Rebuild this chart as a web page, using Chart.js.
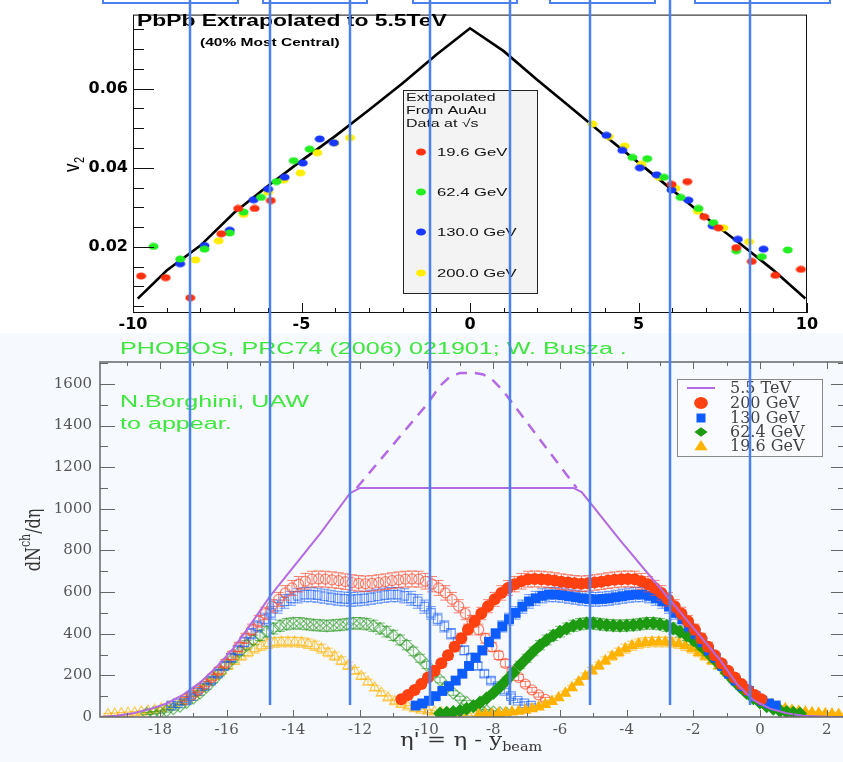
<!DOCTYPE html>
<html>
<head>
<meta charset="utf-8">
<title>PbPb v2 and dN/deta extrapolation</title>
<script src="https://cdn.jsdelivr.net/npm/chart.js@4.4.1/dist/chart.umd.min.js"></script>
<style>
    html, body { margin: 0; padding: 0; width: 843px; height: 762px; overflow: hidden; background: #ffffff; }
    canvas { position: absolute; left: 0; }
    #chart_v2 { top: 0; }
    #chart_dn { top: 333px; }
    #guides { top: 0; pointer-events: none; }
</style>
</head>
<body>
<canvas id="chart_v2" width="843" height="333" style="width:843px;height:333px"></canvas>
<canvas id="chart_dn" width="870" height="429" style="width:870px;height:429px"></canvas>
<canvas id="guides" width="843" height="762" style="width:843px;height:762px"></canvas>
<script>
// ---------- top panel: v2(eta), PbPb extrapolated to 5.5 TeV ----------
var v2_tick_x = [-10, -5, 0, 5, 10]
var v2_tick_y = [0.02, 0.04, 0.06]

var pbpb_eta = [-9.86, -9, -8, -7, -6, -5, -4, -3, -2, -1, 0, 1, 2, 3, 4, 5, 6, 7, 8, 9, 9.95]
var pbpb_v2 = [0.0069, 0.0140, 0.0203, 0.0286, 0.0354, 0.0418, 0.0480, 0.0546, 0.0614, 0.0686, 0.0753,
    0.0695, 0.0622, 0.0552, 0.0481, 0.0413, 0.0344, 0.0274, 0.0209, 0.0141, 0.0069]

var v2_19_eta = [-9.76, -9.03, -8.30, -7.38, -6.88, -6.39, -5.91, 5.98, 6.45, 6.95, 7.37, 7.90, 8.36, 9.06, 9.82]
var v2_19 = [0.0126, 0.0122, 0.0071, 0.0233, 0.0297, 0.0297, 0.0317, 0.0358, 0.0365, 0.0276, 0.0248, 0.0198, 0.0163, 0.0128, 0.0143]

var v2_62_eta = [-9.39, -8.60, -7.88, -7.13, -6.72, -6.20, -5.74, -5.23, -4.76, 4.82, 5.26, 5.76, 6.25, 6.78, 7.22, 7.90, 8.66, 9.43]
var v2_62 = [0.0201, 0.0169, 0.0194, 0.0235, 0.0288, 0.0325, 0.0365, 0.0418, 0.0447, 0.0426, 0.0423, 0.0376, 0.0325, 0.0297, 0.0261, 0.0190, 0.0175, 0.0192]

var v2_130_eta = [-8.60, -7.88, -7.13, -6.42, -5.99, -5.50, -4.96, -4.46, -4.04, 4.05, 4.52, 5.04, 5.54, 5.98, 6.48, 7.20, 7.95, 8.71]
var v2_130 = [0.0157, 0.0203, 0.0242, 0.0319, 0.0346, 0.0376, 0.0412, 0.0473, 0.0463, 0.0482, 0.0444, 0.0400, 0.0382, 0.0344, 0.0318, 0.0253, 0.0219, 0.0194]

var v2_200_eta = [-8.15, -7.46, -6.72, -5.99, -5.53, -5.03, -4.53, -4.02, -3.56, 3.63, 4.12, 4.59, 5.09, 5.61, 6.10, 6.76, 7.52, 8.28]
var v2_200 = [0.0167, 0.0215, 0.0282, 0.0338, 0.0369, 0.0387, 0.0438, 0.0463, 0.0476, 0.0511, 0.0479, 0.0455, 0.0409, 0.0376, 0.0348, 0.0290, 0.0248, 0.0213]

// ---------- bottom panel: dN/deta vs eta' = eta - y_beam ----------
var dn_tick_x = [-18, -16, -14, -12, -10, -8, -6, -4, -2, 0, 2]
var dn_tick_y = [0, 200, 400, 600, 800, 1000, 1200, 1400, 1600]

var lhc_eta = [-19.8, -19.3, -18.8, -18.3, -17.8, -17.3, -16.8, -16.3, -15.8, -15.3, -14.7, -14.2, -13.2, -12.3, -12.0,
    -5.6, -5.35, -4.2, -3.2, -2.2, -1.2, -0.7, -0.2, 0.3, 0.8, 1.3, 2.0, 2.55]
var lhc_dn = [0, 6, 18, 38, 65, 108, 165, 240, 330, 440, 580, 680, 880, 1075, 1100,
    1100, 1080, 850, 658, 466, 274, 160, 82, 40, 18, 6, 1, 0]
var lhc_peak_eta = [-12.1, -10.0, -9.6, -9.3, -9.0, -8.6, -8.3, -8.0, -7.7, -5.5]
var lhc_peak_dn = [1100, 1500, 1590, 1635, 1652, 1653, 1645, 1615, 1565, 1100]

// measured |eta| profiles (symmetric in eta)
var abs_eta = [0, 0.2, 0.4, 0.6, 0.8, 1.0, 1.2, 1.4, 1.6, 1.8, 2.0, 2.2, 2.4, 2.6, 2.8, 3.0, 3.2, 3.4, 3.6, 3.8, 4.0, 4.2, 4.4, 4.6, 4.8, 5.0, 5.2, 5.4]
var dn_200 = [640, 642, 646, 650, 655, 659, 662, 663, 662, 652, 638, 620, 596, 565, 532, 497, 460, 420, 378, 337, 296, 258, 222, 190, 158, 130, 106, 85]
var dn_130 = [565, 567, 570, 575, 580, 585, 588, 588, 582, 570, 555, 530, 500, 470, 435, 400, 360, 320, 285, 245, 208, 175, 148, 125, 100, 78, 65, 55]
var dn_62 = [438, 440, 442, 446, 450, 450, 446, 438, 425, 410, 392, 370, 345, 315, 282, 250, 212, 178, 145, 115, 90, 70, 52, 40, 30, 24, 20, 17]
var dn_19 = [360, 360, 358, 352, 342, 328, 310, 292, 270, 246, 222, 196, 168, 140, 114, 92, 74, 60, 48, 40, 33, 28, 24, 20, 18, 16, 14, 12]
var energy_names = ['200 GeV', '130 GeV', '62.4 GeV', '19.6 GeV']
var y_beam = [5.36, 4.93, 4.20, 3.04]
var y_beam_lhc = 8.6

// ---------- helpers ----------
function xy(xs, ys) {
    return xs.map((x, i) => ({ x: x, y: ys[i] }))
}

// eta' = eta - y_beam for both signs of eta
function shifted(dn, yb) {
    var pts = []
    for (var i = abs_eta.length - 1; i > 0; i--) {
        pts.push({ x: -abs_eta[i] - yb, y: dn[i] })
    }
    for (var i = 0; i < abs_eta.length; i++) {
        pts.push({ x: abs_eta[i] - yb, y: dn[i] })
    }
    return pts
}

// reflected to the other beam of the LHC frame (open symbols)
function reflected(dn, yb) {
    return shifted(dn, yb).map((p) => ({ x: -2 * y_beam_lhc - p.x, y: p.y }))
}

function text_stretch(ctx, str, x, y, sx, align) {
    ctx.save()
    ctx.translate(x, y)
    ctx.scale(sx, 1)
    ctx.textAlign = align || 'left'
    ctx.fillText(str, 0, 0)
    ctx.restore()
}

// the ROOT markers in the picture are slightly wide ellipses
function ellipse_marker(color) {
    var c = document.createElement('canvas')
    c.width = 11
    c.height = 8
    var e = c.getContext('2d')
    e.fillStyle = color
    e.beginPath()
    e.ellipse(5.5, 4, 5, 3.6, 0, 0, Math.PI * 2)
    e.fill()
    return c
}

Chart.defaults.animation = false
Chart.defaults.font.family = 'DejaVu Sans'

// ---------- top chart ----------
var v2_colors = ['#ff3010', '#22ee22', '#1838ff', '#ffee00']
var v2_labels = ['19.6 GeV', '62.4 GeV', '130.0 GeV', '200.0 GeV']

var v2_deco = {
    id: 'v2_deco',
    afterDraw: function (chart) {
        var ctx = chart.ctx
        var a = chart.chartArea
        var sx = chart.scales.x
        var sy = chart.scales.y
        ctx.save()
        ctx.strokeStyle = '#111'
        ctx.lineWidth = 1
        ctx.strokeRect(a.left + 0.5, a.top + 0.5, a.right - a.left - 1, a.bottom - a.top - 1)
        ctx.beginPath()
        for (var v = -10; v <= 10; v++) {
            var px = Math.round(sx.getPixelForValue(v)) + 0.5
            ctx.moveTo(px, a.bottom)
            ctx.lineTo(px, a.bottom - (v % 5 == 0 ? 10 : 5))
        }
        for (var k = 1; k <= 15; k++) {
            var val = k * 0.005
            if (val > sy.max) break
            var py = Math.round(sy.getPixelForValue(val)) + 0.5
            ctx.moveTo(a.left, py)
            ctx.lineTo(a.left + (k % 4 == 0 ? 21 : 11), py)
        }
        ctx.stroke()

        // titles
        ctx.fillStyle = '#000'
        ctx.textBaseline = 'alphabetic'
        ctx.font = 'bold 16px "Liberation Sans"'
        text_stretch(ctx, 'PbPb Extrapolated to 5.5TeV', 137, 26, 1.43)
        ctx.font = 'bold 11px "Liberation Sans"'
        text_stretch(ctx, '(40% Most Central)', 200, 46, 1.41)

        // y title
        ctx.save()
        ctx.translate(79, 172)
        ctx.rotate(-Math.PI / 2)
        ctx.scale(1, 1.3)
        ctx.font = '17px "Liberation Sans"'
        ctx.fillText('v', 0, 0)
        ctx.font = '11px "Liberation Sans"'
        ctx.fillText('2', 9, 4)
        ctx.restore()

        // legend box
        ctx.fillStyle = '#f3f3f3'
        ctx.fillRect(403, 90, 134, 203)
        ctx.strokeStyle = '#222'
        ctx.strokeRect(403.5, 90.5, 134, 203)
        ctx.fillStyle = '#111'
        ctx.font = '11px "Liberation Sans"'
        text_stretch(ctx, 'Extrapolated', 406, 101, 1.45)
        text_stretch(ctx, 'From AuAu', 406, 114, 1.45)
        text_stretch(ctx, 'Data at \u221As', 406, 127, 1.45)
        ctx.font = '11.5px "Liberation Sans"'
        ctx.textBaseline = 'middle'
        var rows = [152, 192, 232, 273]
        for (var i = 0; i < 4; i++) {
            ctx.fillStyle = v2_colors[i]
            ctx.beginPath()
            ctx.ellipse(421, rows[i], 5, 3.6, 0, 0, Math.PI * 2)
            ctx.fill()
            ctx.fillStyle = '#111'
            text_stretch(ctx, v2_labels[i], 437, rows[i] + 1, 1.45)
        }
        ctx.restore()
    }
}

var v2_sets = [
    [v2_19_eta, v2_19], [v2_62_eta, v2_62], [v2_130_eta, v2_130], [v2_200_eta, v2_200]
].map((s, i) => ({
    label: v2_labels[i],
    data: xy(s[0], s[1]),
    showLine: false,
    pointStyle: ellipse_marker(v2_colors[i]),
    pointRadius: 5,
    pointBackgroundColor: v2_colors[i],
    pointBorderColor: v2_colors[i],
    order: i
}))
v2_sets.push({
    label: 'PbPb 5.5 TeV',
    data: xy(pbpb_eta, pbpb_v2),
    showLine: true,
    borderColor: '#000',
    borderWidth: 2.6,
    pointRadius: 0,
    order: 10
})

var chart_v2 = new Chart(document.getElementById('chart_v2'), {
    type: 'scatter',
    data: { datasets: v2_sets },
    options: {
        responsive: false,
        layout: { padding: { left: 0, right: 36, top: 11, bottom: 0 } },
        plugins: { legend: { display: false }, tooltip: { enabled: false } },
        scales: {
            x: {
                type: 'linear',
                min: -10,
                max: 10,
                grid: { display: false, drawTicks: false },
                border: { display: false },
                afterBuildTicks: function (scale) {
                    scale.ticks = v2_tick_x.map((v) => ({ value: v }))
                },
                afterFit: function (scale) {
                    scale.height = 20
                },
                ticks: {
                    padding: 2,
                    color: '#000',
                    maxRotation: 0,
                    autoSkip: false,
                    font: { family: 'DejaVu Sans', size: 16, weight: 'bold' },
                    callback: function (value) {
                        return String(value)
                    }
                }
            },
            y: {
                type: 'linear',
                min: 0.00325,
                max: 0.07875,
                grid: { display: false, drawTicks: false },
                border: { display: false },
                afterBuildTicks: function (scale) {
                    scale.ticks = v2_tick_y.map((v) => ({ value: v }))
                },
                afterFit: function (scale) {
                    scale.width = 133
                },
                ticks: {
                    padding: 5,
                    color: '#000',
                    font: { family: 'DejaVu Sans', size: 16, weight: 'bold' },
                    callback: function (value) {
                        return value.toFixed(2)
                    }
                }
            }
        }
    },
    plugins: [v2_deco]
})

// ---------- bottom chart ----------
var dn_colors = ['#ff4010', '#0d5cff', '#1e9a12', '#ffb300']
var dn_open_colors = ['rgba(255,70,40,0.65)', 'rgba(20,90,255,0.6)', 'rgba(40,150,30,0.6)', 'rgba(255,180,0,0.65)']
var dn_styles = ['circle', 'rect', 'rectRot', 'triangle']
var dn_radius = [6, 7, 7, 7]
var dn_profiles = [dn_200, dn_130, dn_62, dn_19]
var lhc_color = '#b36ae2'
var green_text = '#3fe63f'

var errorbars = {
    id: 'errorbars',
    beforeDatasetDraw: function (chart, args) {
        var ds = chart.data.datasets[args.index]
        if (!ds.errFrac) return
        var ctx = chart.ctx
        var a = chart.chartArea
        var sx = chart.scales.x
        var sy = chart.scales.y
        ctx.save()
        ctx.beginPath()
        ctx.rect(a.left, a.top, a.right - a.left, a.bottom - a.top)
        ctx.clip()
        ctx.strokeStyle = ds.errColor
        ctx.lineWidth = 1
        ctx.beginPath()
        ds.data.forEach(function (p) {
            var e = p.y * ds.errFrac + 5
            var px = sx.getPixelForValue(p.x)
            var y0 = sy.getPixelForValue(Math.max(0, p.y - e))
            var y1 = sy.getPixelForValue(p.y + e)
            ctx.moveTo(px, y0)
            ctx.lineTo(px, y1)
            ctx.moveTo(px - 5, y0)
            ctx.lineTo(px + 5, y0)
            ctx.moveTo(px - 5, y1)
            ctx.lineTo(px + 5, y1)
        })
        ctx.stroke()
        ctx.restore()
    }
}

function draw_symbol(ctx, style, x, y, r, color) {
    ctx.fillStyle = color
    ctx.beginPath()
    if (style == 'circle') {
        ctx.ellipse(x, y, r * 1.15, r, 0, 0, Math.PI * 2)
    } else if (style == 'rect') {
        ctx.rect(x - r * 0.75, y - r * 0.75, r * 1.5, r * 1.5)
    } else if (style == 'rectRot') {
        ctx.moveTo(x, y - r * 0.8)
        ctx.lineTo(x + r * 1.1, y)
        ctx.lineTo(x, y + r * 0.8)
        ctx.lineTo(x - r * 1.1, y)
        ctx.closePath()
    } else {
        ctx.moveTo(x, y - r)
        ctx.lineTo(x + r * 1.1, y + r * 0.7)
        ctx.lineTo(x - r * 1.1, y + r * 0.7)
        ctx.closePath()
    }
    ctx.fill()
}

var dn_deco = {
    id: 'dn_deco',
    beforeDraw: function (chart) {
        var ctx = chart.ctx
        ctx.save()
        ctx.fillStyle = '#f6f9fd'
        ctx.fillRect(0, 0, chart.width, chart.height)
        ctx.restore()
    },
    afterDraw: function (chart) {
        var ctx = chart.ctx
        var a = chart.chartArea
        var sx = chart.scales.x
        var sy = chart.scales.y
        ctx.save()
        ctx.strokeStyle = '#666'
        ctx.lineWidth = 1.5
        ctx.strokeRect(a.left, a.top, a.right - a.left, a.bottom - a.top)
        ctx.lineWidth = 1
        ctx.beginPath()
        for (var v = -19; v <= 2; v++) {
            var px = Math.round(sx.getPixelForValue(v)) + 0.5
            var len = v % 2 == 0 ? 7 : 4
            ctx.moveTo(px, a.bottom)
            ctx.lineTo(px, a.bottom - len)
            ctx.moveTo(px, a.top)
            ctx.lineTo(px, a.top + len)
        }
        for (var val = 100; val <= 1700; val += 100) {
            var py = Math.round(sy.getPixelForValue(val)) + 0.5
            var major = val % 200 == 0
            ctx.moveTo(a.left, py)
            ctx.lineTo(a.left + (major ? 15 : 8), py)
            ctx.moveTo(a.right, py)
            ctx.lineTo(a.right - (major ? 14 : 7), py)
        }
        ctx.stroke()

        // green annotations
        ctx.fillStyle = green_text
        ctx.font = '16px "Liberation Sans"'
        ctx.textBaseline = 'middle'
        text_stretch(ctx, 'PHOBOS, PRC74 (2006) 021901; W. Busza .', 120, 17, 1.57)
        text_stretch(ctx, 'N.Borghini, UAW', 120, 70, 1.57)
        text_stretch(ctx, 'to appear.', 120, 92, 1.57)

        // y title
        ctx.fillStyle = '#333'
        ctx.save()
        ctx.translate(33, 207)
        ctx.rotate(-Math.PI / 2)
        ctx.scale(1, 1.3)
        ctx.font = '16px "DejaVu Serif"'
        var w1 = ctx.measureText('dN').width
        ctx.font = '11px "DejaVu Serif"'
        var w2 = ctx.measureText('ch').width
        ctx.font = '16px "DejaVu Serif"'
        var w3 = ctx.measureText('/d\u03b7').width
        var x0 = -(w1 + w2 + w3) / 2
        ctx.textBaseline = 'alphabetic'
        ctx.fillText('dN', x0, 5)
        ctx.font = '11px "DejaVu Serif"'
        ctx.fillText('ch', x0 + w1, -2)
        ctx.font = '16px "DejaVu Serif"'
        ctx.fillText('/d\u03b7', x0 + w1 + w2, 5)
        ctx.restore()

        // x title
        ctx.save()
        ctx.textBaseline = 'alphabetic'
        ctx.font = '19px "DejaVu Serif"'
        var t1 = '\u03b7\' = \u03b7 - y'
        var tw = ctx.measureText(t1).width
        ctx.font = '12px "DejaVu Serif"'
        var bw = ctx.measureText('beam').width
        ctx.translate(471, 0)
        ctx.scale(1.2, 1)
        var tx = -(tw + bw) / 2
        ctx.font = '19px "DejaVu Serif"'
        ctx.fillText(t1, tx, 413)
        ctx.font = '12px "DejaVu Serif"'
        ctx.fillText('beam', tx + tw, 418)
        ctx.restore()

        // legend
        ctx.fillStyle = '#f9fbfe'
        ctx.fillRect(677, 46, 145, 77)
        ctx.strokeStyle = '#888'
        ctx.lineWidth = 1
        ctx.strokeRect(677.5, 46.5, 145, 77)
        var ly = [55, 70, 85, 99, 113]
        ctx.strokeStyle = lhc_color
        ctx.lineWidth = 2
        ctx.beginPath()
        ctx.moveTo(687, ly[0])
        ctx.lineTo(715, ly[0])
        ctx.stroke()
        for (var i = 0; i < 4; i++) {
            draw_symbol(ctx, dn_styles[i], 701, ly[i + 1], 6, dn_colors[i])
        }
        ctx.fillStyle = '#444'
        ctx.font = '16px "DejaVu Serif"'
        ctx.textBaseline = 'middle'
        ctx.fillText('5.5 TeV', 730, ly[0] + 1)
        for (var i = 0; i < 4; i++) {
            ctx.fillText(energy_names[i], 730, ly[i + 1] + 1)
        }
        ctx.restore()
    }
}

var dn_sets = [
    {
        label: '5.5 TeV',
        data: xy(lhc_eta, lhc_dn),
        showLine: true,
        borderColor: lhc_color,
        borderWidth: 2,
        pointRadius: 0,
        order: 0
    },
    {
        label: '5.5 TeV (peak)',
        data: xy(lhc_peak_eta, lhc_peak_dn),
        showLine: true,
        borderColor: lhc_color,
        borderWidth: 2.5,
        borderDash: [11, 8],
        pointRadius: 0,
        order: 1
    }
]
for (var i = 0; i < 4; i++) {
    dn_sets.push({
        label: energy_names[i],
        data: shifted(dn_profiles[i], y_beam[i]),
        showLine: false,
        pointStyle: dn_styles[i],
        pointRadius: dn_radius[i],
        pointBorderWidth: 0,
        pointBackgroundColor: dn_colors[i],
        pointBorderColor: dn_colors[i],
        errFrac: 0.05,
        errColor: dn_open_colors[i],
        order: 2 + i
    })
    dn_sets.push({
        label: energy_names[i] + ' (reflected)',
        data: reflected(dn_profiles[i], y_beam[i]),
        showLine: false,
        pointStyle: dn_styles[i],
        pointRadius: dn_radius[i] - 1,
        pointBorderWidth: 1.2,
        pointBackgroundColor: 'rgba(0,0,0,0)',
        pointBorderColor: dn_open_colors[i],
        errFrac: 0.05,
        errColor: dn_open_colors[i],
        order: 6 + i
    })
}

var chart_dn = new Chart(document.getElementById('chart_dn'), {
    type: 'scatter',
    data: { datasets: dn_sets },
    options: {
        responsive: false,
        layout: { padding: { left: 0, right: 25, top: 29, bottom: 0 } },
        plugins: { legend: { display: false }, tooltip: { enabled: false } },
        scales: {
            x: {
                type: 'linear',
                min: -19.8,
                max: 2.55,
                grid: { display: false, drawTicks: false },
                border: { display: false },
                afterBuildTicks: function (scale) {
                    scale.ticks = dn_tick_x.map((v) => ({ value: v }))
                },
                afterFit: function (scale) {
                    scale.height = 45
                },
                ticks: {
                    padding: 4,
                    color: '#555',
                    maxRotation: 0,
                    autoSkip: false,
                    font: { family: 'DejaVu Serif', size: 15 },
                    callback: function (value) {
                        return String(value)
                    }
                }
            },
            y: {
                type: 'linear',
                min: 0,
                max: 1705,
                grid: { display: false, drawTicks: false },
                border: { display: false },
                afterBuildTicks: function (scale) {
                    scale.ticks = dn_tick_y.map((v) => ({ value: v }))
                },
                afterFit: function (scale) {
                    scale.width = 100
                },
                ticks: {
                    padding: 8,
                    color: '#555',
                    font: { family: 'DejaVu Serif', size: 15 },
                    callback: function (value) {
                        return String(value)
                    }
                }
            }
        }
    },
    plugins: [errorbars, dn_deco]
})

// ---------- blue guide overlay ----------
var guide_x = [190, 270, 350, 430, 510, 590, 670, 750]
var guide_boxes = [[103, 238], [263, 367], [413, 517], [550, 655], [695, 830]]
var g = document.getElementById('guides').getContext('2d')
g.strokeStyle = '#4a80f0'
g.lineWidth = 2.5
g.beginPath()
guide_x.forEach(function (x) {
    g.moveTo(x, 0)
    g.lineTo(x, 705)
})
g.stroke()
g.lineWidth = 2
guide_boxes.forEach(function (b) {
    g.strokeRect(b[0], -4, b[1] - b[0], 7)
})
</script>
</body>
</html>
